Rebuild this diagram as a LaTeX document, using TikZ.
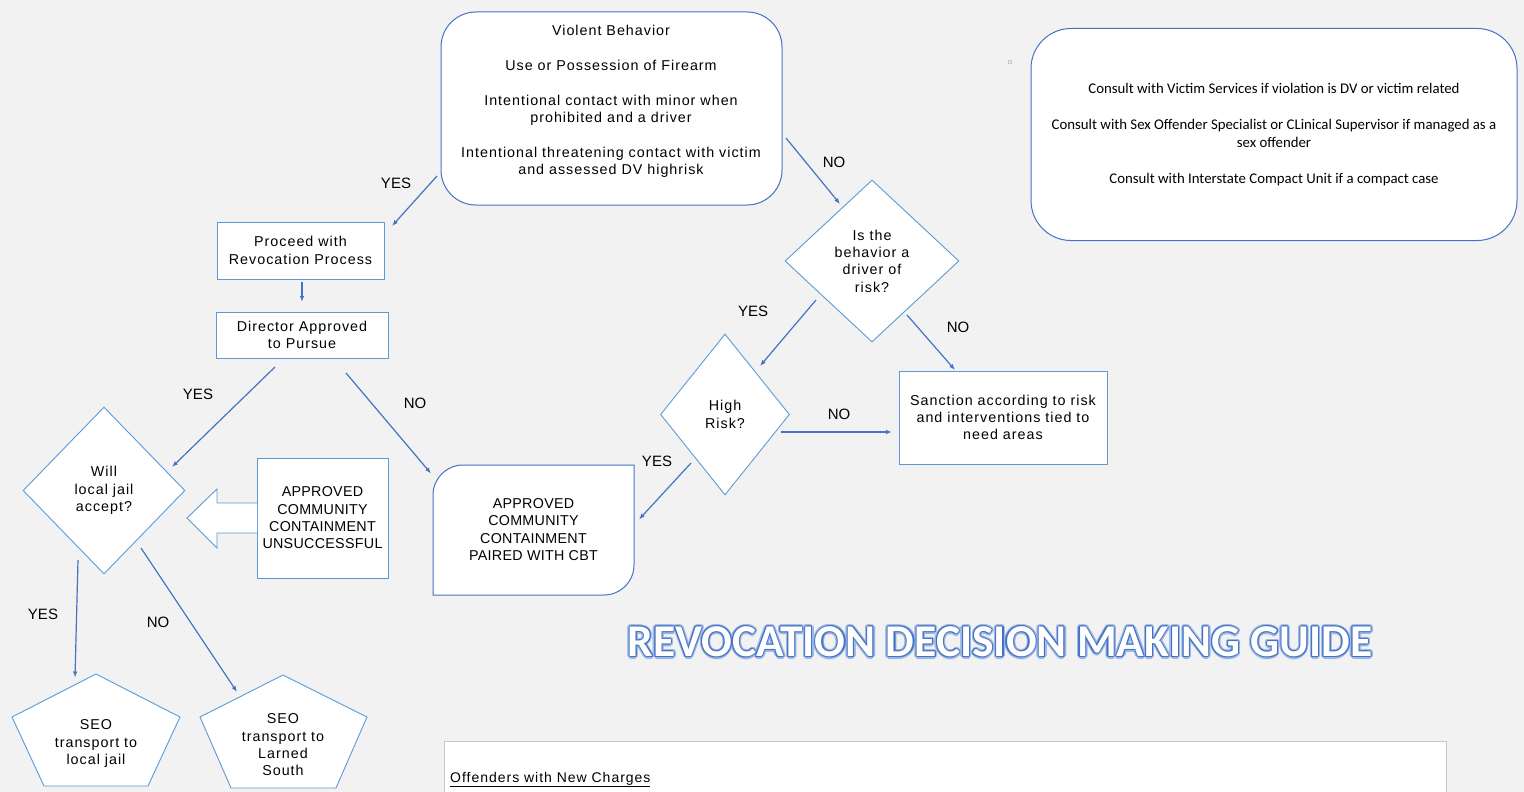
\documentclass[tikz,border=0pt]{standalone}
\usepackage{fontspec}
\setmainfont{Liberation Sans}[LetterSpace=7]
\newfontfamily\capsfont{Liberation Sans}[LetterSpace=2]
\newfontfamily\plainfont{Liberation Sans}
\newfontfamily\calfont{Carlito}
\usetikzlibrary{shapes.geometric,arrows.meta,calc}
\definecolor{bg}{HTML}{F2F2F2}
\definecolor{dblue}{HTML}{4472C4}
\definecolor{lblue}{HTML}{5B9BD5}
\definecolor{glow}{HTML}{9DB7E3}
\definecolor{gline}{HTML}{C8C8C8}
\tikzset{
  base/.style={inner sep=0pt, align=center, font=\fontsize{14.3}{17.3}\selectfont},
  caps/.style={font=\capsfont\fontsize{14.3}{17.3}\selectfont},
  rbox/.style={base, draw=dblue, line width=1pt, fill=white, rounded corners=35pt},
  sbox/.style={base, draw=lblue, line width=1pt, fill=white},
  dia/.style={base, draw=lblue, line width=0.9pt, fill=white, diamond, aspect=1},
  lab/.style={inner sep=0pt, font=\plainfont\fontsize{15}{17}\selectfont},
  conn/.style={draw=dblue, line width=1.2pt, -{Latex[length=6pt,width=4.5pt]}},
  ttl/.style={inner sep=0pt, font=\calfont\bfseries\fontsize{45.5}{50}\selectfont},
}
\begin{document}
\begin{tikzpicture}[x=1pt,y=-1pt]
\fill[bg] (0,0) rectangle (1524,792);
\useasboundingbox (0,0) rectangle (1524,792);

% top box
\node[rbox, minimum width=341pt, minimum height=193pt] (top) at (611.5,108.5) {};
\node[base] (toptext) at (611,101.5) {Violent Behavior\\[17.3pt]Use or Possession of Firearm\\[17.3pt]Intentional contact with minor when\\prohibited and a driver\\[17.3pt]Intentional threatening contact with victim\\and assessed DV highrisk};

% right box
\node[rbox, rounded corners=40pt, minimum width=486pt, minimum height=212pt, font=\calfont\fontsize{14.8}{18}\selectfont] (consult) at (1274,134.5)
 {Consult with Victim Services if violation is DV or victim related\\[18pt]Consult with Sex Offender Specialist or CLinical Supervisor if managed as a\\sex offender\\[18pt]Consult with Interstate Compact Unit if a compact case};
\draw[gline, line width=0.6pt] (1008.5,60.5) rectangle (1011.5,63.5);

% left column
\node[sbox, minimum width=167pt, minimum height=57pt] (proceed) at (300.5,250.5) {Proceed with\\Revocation Process};
\node[sbox, minimum width=172pt, minimum height=46pt] (director) at (302,335) {Director Approved\\to Pursue};
\node[dia, minimum width=162pt, minimum height=167pt] (will) at (104,490.5) {Will\\local jail\\accept?};
\node[sbox, caps, minimum width=131pt, minimum height=120pt] (unsucc) at (322.5,518) {APPROVED\\COMMUNITY\\CONTAINMENT\\UNSUCCESSFUL};
\draw[lblue, line width=0.9pt, fill=white] (257,503) -- (217,503) -- (217,489) -- (187,518) -- (217,548) -- (217,533) -- (257,533);

% paired box
\draw[dblue, line width=1pt, fill=white] (433,595) -- (433,495) arc[start angle=180, end angle=270, radius=30] -- (634,465) -- (634,565) arc[start angle=0, end angle=90, radius=30] -- cycle;
\node[base, caps] (paired) at (533.5,529.5) {APPROVED\\COMMUNITY\\CONTAINMENT\\PAIRED WITH CBT};

% right diamonds
\node[dia, minimum width=174pt, minimum height=162pt] (isthe) at (872,261) {Is the\\behavior a\\driver of\\risk?};
\node[dia, minimum width=129pt, minimum height=161pt] (high) at (725,414.5) {High\\Risk?};
\node[sbox, minimum width=208pt, minimum height=93pt] (sanction) at (1003,417.5) {Sanction according to risk\\and interventions tied to\\need areas};

% pentagons
\draw[lblue, line width=0.9pt, fill=white] (96,674) -- (180,717) -- (148,786) -- (44,786) -- (12,717) -- cycle;
\node[base] (pent1) at (96,743.5) {SEO\\transport to\\local jail};
\draw[lblue, line width=0.9pt, fill=white] (283,675) -- (367,717) -- (336,788) -- (231,788) -- (200,717) -- cycle;
\node[base] (pent2) at (283,745) {SEO\\transport to\\Larned\\South};

% bottom box
\draw[gline, line width=1pt, fill=white] (444,800) -- (444,741.5) -- (1446,741.5) -- (1446,800);
\node[inner sep=0pt, anchor=base west, font=\fontsize{14}{17}\selectfont] (offenders) at (450,782) {\underline{Offenders with New Charges}};

% title
\coordinate (tpos) at (1000,642);
\foreach \a in {0,30,...,330} {\node[ttl, text=glow] at ([shift={(\a:2.3)}]tpos) {REVOCATION DECISION MAKING GUIDE};}
\foreach \a in {0,60,...,300} {\node[ttl, text=dblue] at ([shift={(\a:1.1)}]tpos) {REVOCATION DECISION MAKING GUIDE};}
\node[ttl, text=white] (title) at (tpos) {REVOCATION DECISION MAKING GUIDE};

% connectors
\draw[conn] ([shift={(-174.5,67.5)}]top.center) -- ([shift={(91.5,-24.5)}]proceed.center);
\draw[conn] ([shift={(174.5,29.5)}]top.center) -- ([shift={(-32,-57)}]isthe.center);
\draw[conn] ([shift={(1.5,31.5)}]proceed.center) -- ([shift={(0,-33)}]director.center);
\draw[conn] ([shift={(-27,32)}]director.center) -- ([shift={(68,-23.5)}]will.center);
\draw[conn] ([shift={(44,38)}]director.center) -- ([shift={(-102.5,-56)}]paired.center);
\draw[conn] ([shift={(-56,39)}]isthe.center) -- ([shift={(35,-48.5)}]high.center);
\draw[conn] ([shift={(35,54)}]isthe.center) -- ([shift={(-48,-47.5)}]sanction.center);
\draw[conn] ([shift={(56,17.5)}]high.center) -- ([shift={(-111,14.5)}]sanction.center);
\draw[conn] ([shift={(-34,48.5)}]high.center) -- ([shift={(105.5,-10)}]paired.center);
\draw[conn] ([shift={(-26,69.5)}]will.center) -- ([shift={(-21,-66)}]pent1.center);
\draw[conn] ([shift={(37,57.5)}]will.center) -- ([shift={(-46,-53)}]pent2.center);

% labels
\node[lab] (l1) at (396,183) {YES};
\node[lab] (l2) at (834,162) {NO};
\node[lab] (l3) at (198,394) {YES};
\node[lab] (l4) at (415,403) {NO};
\node[lab] (l5) at (753,311) {YES};
\node[lab] (l6) at (958,327) {NO};
\node[lab] (l7) at (839,414) {NO};
\node[lab] (l8) at (657,461) {YES};
\node[lab] (l9) at (43,614) {YES};
\node[lab] (l10) at (158,622) {NO};
\end{tikzpicture}
\end{document}
